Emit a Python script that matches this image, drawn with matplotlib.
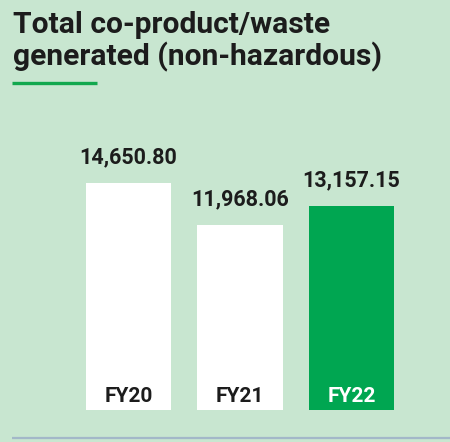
import matplotlib
matplotlib.use("Agg")
import matplotlib.pyplot as plt
from matplotlib.lines import Line2D

# data
years = ["FY20", "FY21", "FY22"]
values = [14650.80, 11968.06, 13157.15]
value_labels = ["14,650.80", "11,968.06", "13,157.15"]
title_lines = ["Total co-product/waste", "generated (non-hazardous)"]

bg = "#c8e6d0"
green = "#00a651"
dark = "#1c1c1c"
bar_colors = ["white", "white", green]
label_colors = [dark, dark, "white"]

plt.rcParams["font.family"] = ["Roboto", "DejaVu Sans"]

fig = plt.figure(figsize=(4.5, 4.42), dpi=100, facecolor=bg)

# axes: baseline at 410 px from top, 0.01549 px per unit
W, H = 450, 442
base_px = 410
ax = fig.add_axes([0, (H - base_px) / H, 1, base_px / H])
ax.set_facecolor(bg)
ax.set_ylim(0, base_px / 0.01549)
ax.set_xlim(-128.5 / 111.5, (W - 128.5) / 111.5)

x = range(len(years))
bars = ax.bar(x, values, width=0.767, color=bar_colors, edgecolor="none")

for i, b in enumerate(bars):
    ax.annotate(value_labels[i], (b.get_x() + b.get_width() / 2, values[i]),
                xytext=(0, 14), textcoords="offset points",
                ha="center", va="baseline", fontsize=15.5,
                fontweight="bold", color=dark)
    ax.annotate(years[i], (b.get_x() + b.get_width() / 2, 0),
                xytext=(0, 5.8), textcoords="offset points",
                ha="center", va="baseline", fontsize=15,
                fontweight="bold", color=label_colors[i])

ax.axis("off")

# title block
for line, y_px in zip(title_lines, [33, 65]):
    fig.text(13 / W, 1 - y_px / H, line, fontsize=21.6,
             fontweight="bold", color=dark, ha="left", va="baseline")
fig.add_artist(Line2D([12 / W, 97 / W], [1 - 83 / H, 1 - 83 / H],
                      transform=fig.transFigure, color="#12a84e", lw=2.4,
                      solid_capstyle="butt"))

# bottom rule
fig.add_artist(Line2D([12 / W, 1], [1 - 437.7 / H, 1 - 437.7 / H],
                      transform=fig.transFigure, color="#a3b8c8", lw=1.6,
                      solid_capstyle="butt"))

fig.savefig("out.png", dpi=100, facecolor=bg)
